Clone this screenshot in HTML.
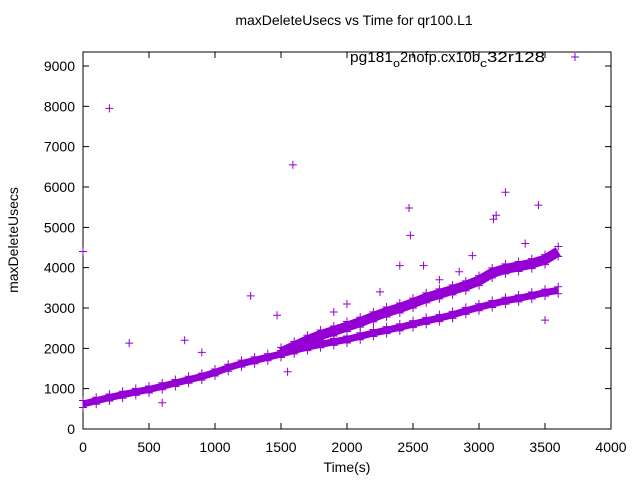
<!DOCTYPE html>
<html><head><meta charset="utf-8"><style>
body{margin:0;background:#fff}
svg{display:block;font-family:"Liberation Sans",sans-serif}
</style></head><body>
<svg id="c" width="640" height="480">
<text x="354" y="25" font-size="14" text-anchor="middle">maxDeleteUsecs vs Time for qr100.L1</text>
<text x="347" y="472" font-size="14" text-anchor="middle">Time(s)</text>
<text transform="translate(18,240) rotate(-90)" font-size="14" text-anchor="middle">maxDeleteUsecs</text>
<g id="ax"></g><g id="marks"></g>
<g font-size="15">
<text x="350" y="62" textLength="43" lengthAdjust="spacingAndGlyphs">pg181</text>
<text x="393" y="67" font-size="11" textLength="7" lengthAdjust="spacingAndGlyphs">o</text>
<text x="400" y="62" textLength="80" lengthAdjust="spacingAndGlyphs">2nofp.cx10b</text>
<text x="480" y="67" font-size="11" textLength="7" lengthAdjust="spacingAndGlyphs">c</text>
<text x="487" y="62" textLength="58" lengthAdjust="spacingAndGlyphs">32r128</text>
<path d="M571 57h8M575 53v8" stroke="#9400d3" stroke-width="1"/>
</g>
</svg>
<script>
const xTicks=[0,500,1000,1500,2000,2500,3000,3500,4000];
const yTicks=[0,1000,2000,3000,4000,5000,6000,7000,8000,9000];
const lowerT=[0,100,200,300,400,500,600,700,800,900,1000,1100,1200,1300,1400,1500,1600,1700,1800,1900,2000,2100,2200,2300,2400,2500,2600,2700,2800,2900,3000,3100,3200,3300,3400,3500,3600];
const lowerV=[620,700,780,850,920,980,1060,1140,1220,1300,1400,1520,1620,1700,1780,1860,1950,2030,2100,2160,2220,2300,2380,2450,2520,2600,2680,2750,2830,2930,3020,3100,3180,3240,3310,3380,3440];
const upperT=[1500,1600,1700,1800,1900,2000,2100,2200,2300,2400,2500,2600,2700,2800,2900,3000,3100,3200,3300,3400,3500,3600];
const upperV=[1900,2050,2200,2330,2430,2540,2650,2780,2900,3000,3120,3250,3350,3450,3550,3680,3870,3970,4030,4100,4200,4400];
const outT=[200,1590,3200,2470,3450,2480,3130,3110,1270,350,770,1470,1550,3500,0,2580,2400,2000,2250,2700,2850,3350,2950,1900,900,600];
const outV=[7950,6550,5870,5480,5550,4800,5300,5200,3300,2130,2200,2820,1420,2700,4400,4050,4050,3100,3400,3700,3900,4600,4300,2900,1900,650];
const X=v=>83+v*528/4000, Y=v=>429-v*363/9000;
const NS='http://www.w3.org/2000/svg';
const ax=document.getElementById('ax'), mk=document.getElementById('marks');
function el(t,a,p){const e=document.createElementNS(NS,t);for(const k in a)e.setAttribute(k,a[k]);p.appendChild(e);return e;}
const fr=el('rect',{x:83,y:52,width:528,height:377,fill:'none',stroke:'#000','stroke-width':1},ax);


xTicks.forEach(v=>{const x=X(v);
 const t=el('path',{d:`M${x} 429v-6M${x} 52v6`,stroke:'#000'},ax);
 
 
 const l=el('text',{x:x,y:452,'font-size':14,'text-anchor':'middle'},ax);l.textContent=v;
 
 });
yTicks.forEach(v=>{const y=Y(v);
 const t=el('path',{d:`M83 ${y}h6M611 ${y}h-6`,stroke:'#000'},ax);
 
 
 const l=el('text',{x:75,y:y+5,'font-size':14,'text-anchor':'end'},ax);l.textContent=v;
 
 });
function band(T,V,w,name){
 const pl=el('polyline',{points:T.map((t,i)=>X(t)+','+Y(V[i])).join(' '),fill:'none',stroke:'#9400d3','stroke-width':w,'stroke-linejoin':'round'},mk);
 
 
 T.forEach((t,i)=>{const x=X(t),y=Y(V[i]);
  const p=el('path',{d:`M${x-4} ${y-w/2}h8M${x} ${y-w/2-4}v8M${x-4} ${y+w/2}h8M${x} ${y+w/2-4}v8`,stroke:'#9400d3'},mk);
  
  });
}
band(lowerT,lowerV,7,'lower-band');
band(upperT,upperV,10,'upper-band');
outT.forEach((t,i)=>{const x=X(t),y=Y(outV[i]);
 const p=el('path',{d:`M${x-4} ${y}h8M${x} ${y-4}v8`,stroke:'#9400d3'},mk);
 
 });
</script>
</body></html>
